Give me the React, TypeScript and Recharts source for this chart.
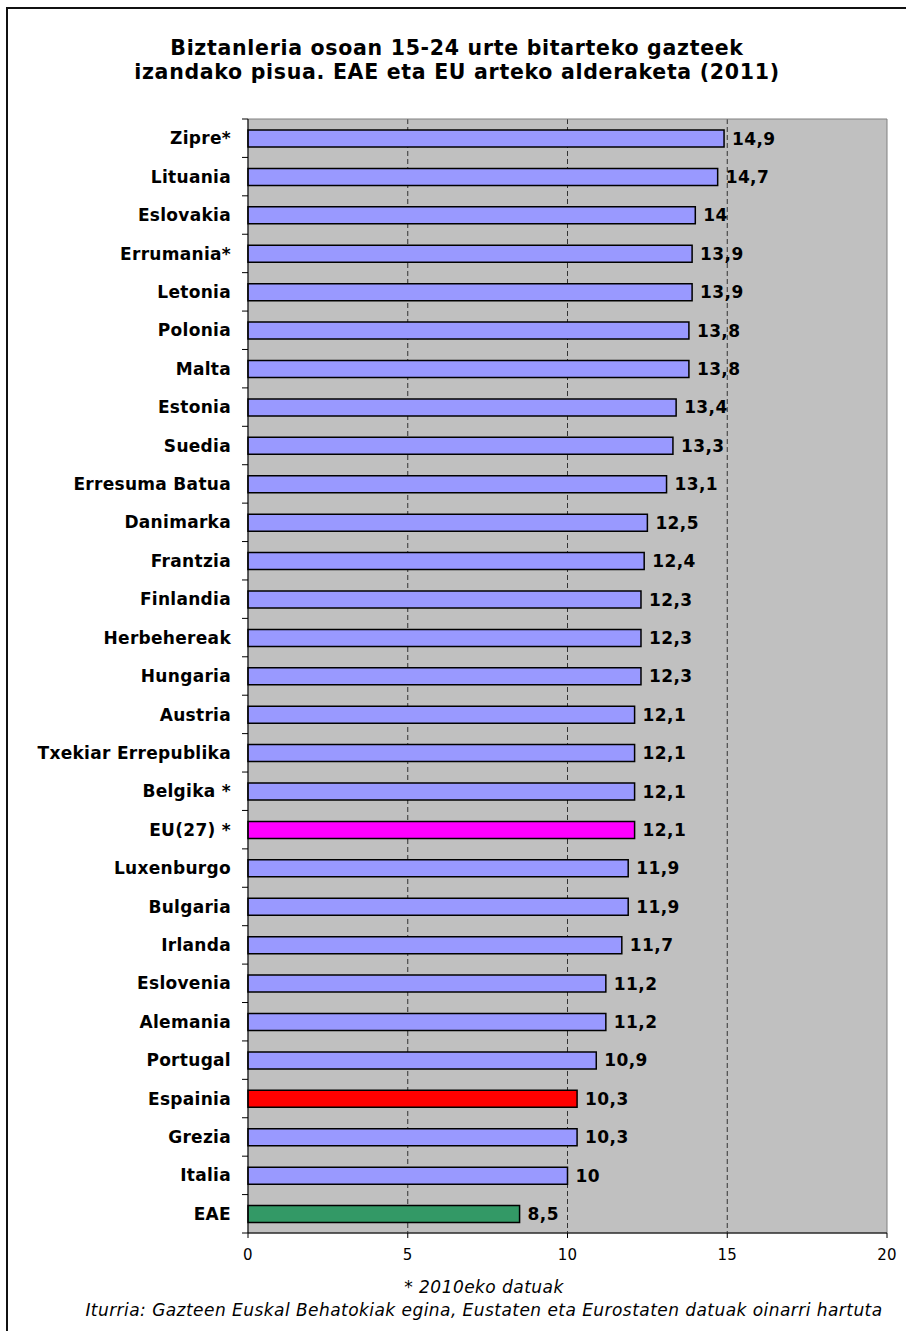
import React from 'react';
import { BarChart, Bar, XAxis, YAxis, CartesianGrid, Cell, LabelList, ReferenceArea } from 'recharts';

const categories = [
  'Zipre*', 'Lituania', 'Eslovakia', 'Errumania*', 'Letonia', 'Polonia', 'Malta', 'Estonia',
  'Suedia', 'Erresuma Batua', 'Danimarka', 'Frantzia', 'Finlandia', 'Herbehereak', 'Hungaria',
  'Austria', 'Txekiar Errepublika', 'Belgika *', 'EU(27) *', 'Luxenburgo', 'Bulgaria', 'Irlanda',
  'Eslovenia', 'Alemania', 'Portugal', 'Espainia', 'Grezia', 'Italia', 'EAE',
];
const values = [
  14.9, 14.7, 14, 13.9, 13.9, 13.8, 13.8, 13.4, 13.3, 13.1, 12.5, 12.4, 12.3, 12.3, 12.3,
  12.1, 12.1, 12.1, 12.1, 11.9, 11.9, 11.7, 11.2, 11.2, 10.9, 10.3, 10.3, 10, 8.5,
];
const xTicks = [0, 5, 10, 15, 20];
const gridValues = [5, 10, 15];
const highlightColors: Record<string, string> = {
  'EU(27) *': '#FF00FF',
  'Espainia': '#FF0000',
  'EAE': '#339966',
};
const defaultColor = '#9999FF';

const titleLines = [
  'Biztanleria osoan 15-24 urte bitarteko gazteek',
  'izandako pisua. EAE eta EU arteko alderaketa (2011)',
];
const footnote = '* 2010eko datuak';
const source = 'Iturria: Gazteen Euskal Behatokiak egina, Eustaten eta Eurostaten datuak oinarri hartuta';

const data = categories.map((name, i) => ({ name, value: values[i] }));

const W = 906;
const H = 1331;
const X_AXIS_H = 30;
const MARGIN = { top: 119, right: 19, bottom: 68, left: 0 };
const Y_AXIS_W = 248;
const PLOT_LEFT = MARGIN.left + Y_AXIS_W;
const BAND = (H - MARGIN.top - MARGIN.bottom - X_AXIS_H) / categories.length;
const FONT = '"DejaVu Sans", Verdana, sans-serif';

const CategoryTick = (props: any) => {
  const { y, payload, index } = props;
  const isLast = index === categories.length - 1;
  return (
    <g>
      <line x1={PLOT_LEFT - 6} x2={PLOT_LEFT} y1={y - BAND / 2} y2={y - BAND / 2} stroke="#000" strokeWidth={1} />
      {isLast && (
        <line x1={PLOT_LEFT - 6} x2={PLOT_LEFT} y1={y + BAND / 2} y2={y + BAND / 2} stroke="#000" strokeWidth={1} />
      )}
      <text
        x={PLOT_LEFT - 17}
        y={y}
        dy="0.36em"
        textAnchor="end"
        fontFamily={FONT}
        fontWeight="bold"
        fontSize={17}
        letterSpacing={0.3}
        fill="#000"
      >
        {payload.value}
      </text>
    </g>
  );
};

export default function App() {
  return (
    <div style={{ position: 'absolute', left: 0, top: 0, width: W, height: H, background: '#fff' }}>
      <BarChart
        width={W}
        height={H}
        data={data}
        layout="vertical"
        margin={MARGIN}
        barSize={17}
      >
        <CartesianGrid
          horizontal={false}
          vertical={true}
          verticalValues={gridValues}
          stroke="#333"
          strokeDasharray="5 3"
          fill="#C0C0C0"
          fillOpacity={1}
        />
        <ReferenceArea x1={0} x2={20} fill="none" stroke="#808080" strokeWidth={1} ifOverflow="visible" />
        <XAxis
          type="number"
          domain={[0, 20]}
          ticks={xTicks}
          interval={0}
          height={X_AXIS_H}
          tickSize={5}
          tickMargin={11}
          axisLine={{ stroke: '#000', strokeWidth: 1 }}
          tickLine={{ stroke: '#000' }}
          tick={{ fill: '#000', fontSize: 15, fontFamily: FONT, letterSpacing: 0.3 }}
        />
        <YAxis
          type="category"
          dataKey="name"
          width={Y_AXIS_W}
          interval={0}
          tickLine={false}
          axisLine={{ stroke: '#000', strokeWidth: 1 }}
          tick={<CategoryTick />}
        />
        <Bar dataKey="value" stroke="#000" strokeWidth={1.5} isAnimationActive={false}>
          {data.map((d) => (
            <Cell key={d.name} fill={highlightColors[d.name] ?? defaultColor} />
          ))}
          <LabelList
            dataKey="value"
            position="right"
            offset={8}
            formatter={(v: any) => String(v).replace('.', ',')}
            fill="#000"
            fontFamily={FONT}
            fontWeight="bold"
            fontSize={17}
            letterSpacing={0.4}
          />
        </Bar>
      </BarChart>
      <svg
        width={W}
        height={H}
        style={{ position: 'absolute', left: 0, top: 0, pointerEvents: 'none' }}
      >
        <line x1={7} y1={8} x2={7} y2={H} stroke="#111" strokeWidth={2} />
        <line x1={6} y1={8} x2={W} y2={8} stroke="#111" strokeWidth={2} />
        {titleLines.map((t, i) => (
          <text
            key={i}
            x={457}
            y={55 + i * 24}
            textAnchor="middle"
            fontFamily={FONT}
            fontWeight="bold"
            fontSize={20.5}
            letterSpacing={0.7}
            fill="#000"
          >
            {t}
          </text>
        ))}
        <text x={484} y={1293} textAnchor="middle" fontFamily={FONT} fontStyle="italic" fontSize={17} letterSpacing={0.45} fill="#000">
          {footnote}
        </text>
        <text x={484} y={1316} textAnchor="middle" fontFamily={FONT} fontStyle="italic" fontSize={17} letterSpacing={0.45} fill="#000">
          {source}
        </text>
      </svg>
    </div>
  );
}
